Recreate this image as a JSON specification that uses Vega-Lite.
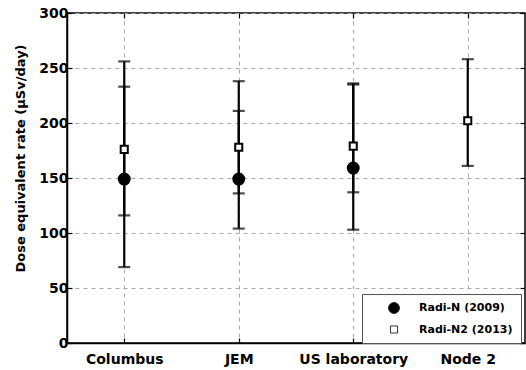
{
  "$schema": "https://vega.github.io/schema/vega-lite/v6.json",
  "width": 458,
  "height": 330,
  "autosize": {"type": "none"},
  "padding": {"left": 67, "top": 13, "right": 1, "bottom": 27},
  "background": "white",
  "config": {
    "font": "DejaVu Sans",
    "view": {"stroke": "black", "strokeWidth": 1.5},
    "axis": {
      "domainColor": "black",
      "domainWidth": 1.5,
      "tickColor": "black",
      "tickWidth": 1.2,
      "labelFont": "DejaVu Sans",
      "labelFontWeight": "bold",
      "labelFontSize": 14,
      "labelColor": "black",
      "titleFont": "DejaVu Sans",
      "titleFontWeight": "bold",
      "titleFontSize": 13,
      "titleColor": "black",
      "gridColor": "#a8a8a8",
      "gridDash": [4, 4],
      "gridWidth": 1
    },
    "legend": {
      "labelFont": "DejaVu Sans",
      "labelFontWeight": "bold",
      "labelFontSize": 11,
      "labelColor": "black"
    }
  },
  "data": {
    "values": [
      {"module": "Columbus", "series": "Radi-N (2009)", "value": 149, "lo": 69, "hi": 233},
      {"module": "Columbus", "series": "Radi-N2 (2013)", "value": 176, "lo": 116, "hi": 256},
      {"module": "JEM", "series": "Radi-N (2009)", "value": 149, "lo": 104, "hi": 211},
      {"module": "JEM", "series": "Radi-N2 (2013)", "value": 178, "lo": 136, "hi": 238},
      {"module": "US laboratory", "series": "Radi-N (2009)", "value": 159, "lo": 103, "hi": 235},
      {"module": "US laboratory", "series": "Radi-N2 (2013)", "value": 179, "lo": 137, "hi": 236},
      {"module": "Node 2", "series": "Radi-N2 (2013)", "value": 202, "lo": 161, "hi": 258}
    ]
  },
  "resolve": {"axis": {"x": "independent", "y": "independent"}},
  "layer": [
    {
      "mark": {"type": "rule", "color": "black", "strokeWidth": 2.2},
      "encoding": {
        "x": {
          "field": "module",
          "type": "nominal",
          "sort": ["Columbus", "JEM", "US laboratory", "Node 2"],
          "scale": {"type": "point", "padding": 0.5},
          "axis": {
            "title": null,
            "labelAngle": 0,
            "labelPadding": 14,
            "tickSize": -5,
            "grid": true
          }
        },
        "y": {
          "field": "lo",
          "type": "quantitative",
          "scale": {"domain": [0, 300]},
          "axis": {
            "title": "Dose equivalent rate (μSv/day)",
            "values": [0, 50, 100, 150, 200, 250, 300],
            "tickSize": -5,
            "labelPadding": 4,
            "grid": true,
            "titleX": -43,
            "titleY": 145,
            "titleAlign": "center",
            "titleBaseline": "alphabetic"
          }
        },
        "y2": {"field": "hi"}
      }
    },
    {
      "mark": {"type": "tick", "color": "black", "size": 12, "thickness": 2.2},
      "encoding": {
        "x": {
          "field": "module",
          "type": "nominal",
          "sort": ["Columbus", "JEM", "US laboratory", "Node 2"],
          "axis": {
            "orient": "top",
            "title": null,
            "labels": false,
            "domain": false,
            "grid": false,
            "tickSize": -5
          }
        },
        "y": {
          "field": "lo",
          "type": "quantitative",
          "axis": {
            "orient": "right",
            "title": null,
            "labels": false,
            "domain": false,
            "grid": false,
            "values": [0, 50, 100, 150, 200, 250, 300],
            "tickSize": -5
          }
        }
      }
    },
    {
      "mark": {"type": "tick", "color": "black", "size": 12, "thickness": 2.2},
      "encoding": {
        "x": {
          "field": "module",
          "type": "nominal",
          "sort": ["Columbus", "JEM", "US laboratory", "Node 2"],
          "axis": null
        },
        "y": {"field": "hi", "type": "quantitative", "axis": null}
      }
    },
    {
      "mark": {"type": "point", "opacity": 1, "strokeWidth": 2, "stroke": "black"},
      "encoding": {
        "x": {
          "field": "module",
          "type": "nominal",
          "sort": ["Columbus", "JEM", "US laboratory", "Node 2"],
          "axis": null
        },
        "y": {"field": "value", "type": "quantitative", "axis": null},
        "shape": {
          "field": "series",
          "type": "nominal",
          "scale": {"domain": ["Radi-N (2009)", "Radi-N2 (2013)"], "range": ["circle", "square"]},
          "legend": {
            "title": null,
            "orient": "none",
            "legendX": 295,
            "legendY": 281,
            "strokeColor": "#555",
            "fillColor": "white",
            "padding": 8,
            "rowPadding": 7,
            "symbolOffset": 18,
            "labelOffset": 19,
            "symbolStrokeWidth": 0.8,
            "symbolStrokeColor": "#666"
          }
        },
        "fill": {
          "field": "series",
          "type": "nominal",
          "scale": {"domain": ["Radi-N (2009)", "Radi-N2 (2013)"], "range": ["black", "white"]}
        },
        "size": {
          "field": "series",
          "type": "nominal",
          "scale": {"domain": ["Radi-N (2009)", "Radi-N2 (2013)"], "range": [120, 50]}
        }
      }
    }
  ]
}
